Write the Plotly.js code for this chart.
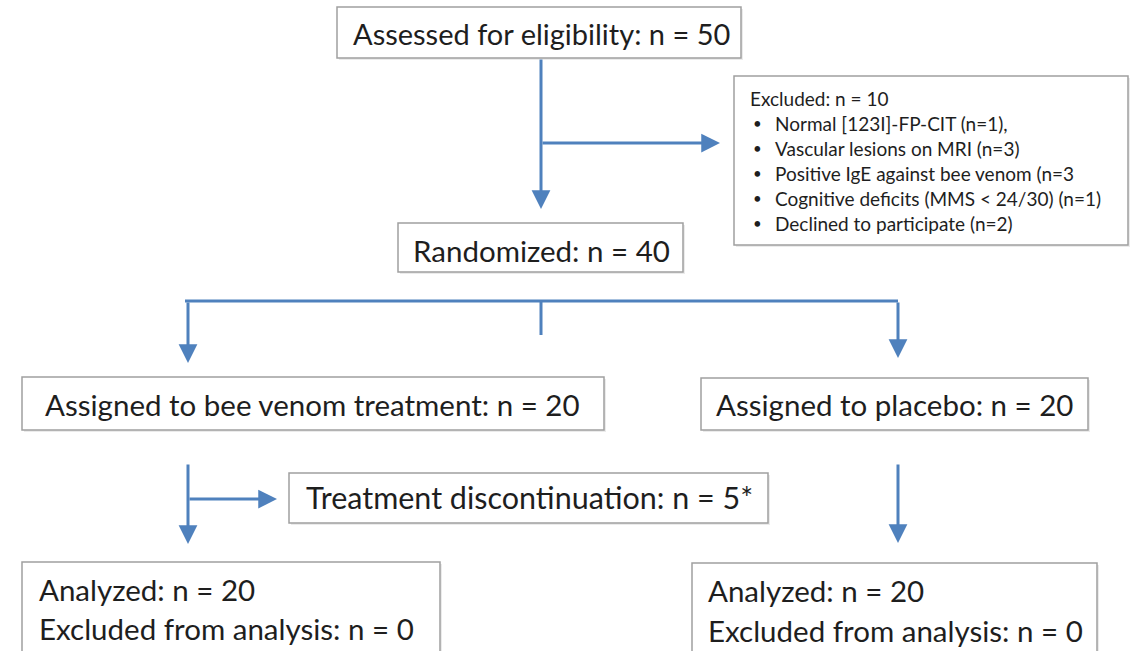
<!DOCTYPE html>
<html><head><meta charset="utf-8">
<script src="https://cdn.plot.ly/plotly-3.0.1.min.js"></script>
<style>html,body{margin:0;padding:0;background:#fff}</style>
</head><body><div id="chart" style="width:1130px;height:651px"></div>
<script>
// ---- data ----
const stageLabels = ["Assessed for eligibility", "Randomized", "Assigned to bee venom treatment", "Assigned to placebo", "Treatment discontinuation"];
const stageCounts = [50, 40, 20, 20, 5];
const stageSuffix = ["", "", "", "", "*"];
const excludedTitle = "Excluded";
const excludedTotal = 10;
const exclusionReasons = ["Normal [123I]-FP-CIT", "Vascular lesions on MRI", "Positive IgE against bee venom", "Cognitive deficits (MMS < 24/30)", "Declined to participate"];
const exclusionCounts = [1, 3, 3, 1, 2];
const exclusionClose = [")," , ")", "", ")", ")"];
const analyzedLabels = ["Analyzed", "Excluded from analysis"];
const analyzedBee = [20, 0];
const analyzedPlacebo = [20, 0];

// ---- layout geometry (pixels) ----
const FONT = "Lato, 'Open Sans', sans-serif";
const TXT = "#1e1e1e";
const BLUE = "#4f81bd";
const BORDER = "#a0a0a0";

const boxes = [
  {x0:337, x1:741, y0:7,   y1:58},   // assessed
  {x0:398, x1:683, y0:223, y1:272},  // randomized
  {x0:22,  x1:604, y0:377, y1:430},  // bee venom
  {x0:701, x1:1088,y0:378, y1:430},  // placebo
  {x0:289, x1:768, y0:473, y1:523},  // discontinuation
  {x0:734, x1:1128,y0:76,  y1:245},  // excluded
  {x0:22,  x1:440, y0:562, y1:670},  // analyzed bee
  {x0:692, x1:1097,y0:563, y1:670}   // analyzed placebo
];
const stageText = [
  {x:541, y:33,  size:29},
  {x:541, y:250, size:29.5},
  {x:312, y:404, size:29.5},
  {x:894, y:404, size:29.5},
  {x:529, y:497, size:30.5}
];
const lines = [
  [185, 301, 898, 301],
  [541, 301, 541, 335]
];
const arrows = [
  [541, 58, 541, 209],
  [541, 143, 720, 143],
  [188, 301, 188, 363],
  [898, 301, 898, 358],
  [188, 463, 188, 544],
  [188, 499, 277, 499],
  [898, 463, 898, 543]
];

const shapes = [];
boxes.forEach(b => {
  shapes.push({type:"rect", xref:"x", yref:"y", x0:b.x0+2, x1:b.x1+2, y0:b.y0+2, y1:b.y1+2,
    line:{width:0}, fillcolor:"rgba(0,0,0,0.08)", layer:"below"});
  shapes.push({type:"rect", xref:"x", yref:"y", x0:b.x0, x1:b.x1, y0:b.y0, y1:b.y1,
    line:{color:BORDER, width:1.5}, fillcolor:"#ffffff", layer:"below"});
});
lines.forEach(l => shapes.push({type:"line", xref:"x", yref:"y", x0:l[0], y0:l[1], x1:l[2], y1:l[3],
  line:{color:BLUE, width:3}}));

const ann = [];
stageLabels.forEach((lab, i) => {
  const p = stageText[i];
  ann.push({x:p.x, y:p.y, xref:"x", yref:"y", xanchor:"center", yanchor:"middle", showarrow:false,
    text: lab + ": n = " + stageCounts[i] + stageSuffix[i],
    font:{family:FONT, size:p.size, color:TXT}});
});
// excluded box
const SMALL = 19;
ann.push({x:748, y:98, xref:"x", yref:"y", xanchor:"left", yanchor:"middle", showarrow:false,
  text: excludedTitle + ": n = " + excludedTotal, font:{family:FONT, size:SMALL, color:TXT}});
exclusionReasons.forEach((r, i) => {
  const y = 123 + i * 25;
  ann.push({x:751, y:y, xref:"x", yref:"y", xanchor:"left", yanchor:"middle", showarrow:false,
    text:"•", font:{family:FONT, size:15, color:TXT}});
  ann.push({x:773, y:y, xref:"x", yref:"y", xanchor:"left", yanchor:"middle", showarrow:false,
    text: r + " (n=" + exclusionCounts[i] + exclusionClose[i], font:{family:FONT, size:SMALL, color:TXT}});
});
// analyzed boxes
[[37, analyzedBee, [589, 628]], [706, analyzedPlacebo, [590, 630]]].forEach(([x, vals, ys]) => {
  analyzedLabels.forEach((lab, i) => {
    ann.push({x:x, y:ys[i], xref:"x", yref:"y", xanchor:"left", yanchor:"middle", showarrow:false,
      text: lab + ": n = " + vals[i], font:{family:FONT, size:29.5, color:TXT}});
  });
});
arrows.forEach(a => ann.push({x:a[2], y:a[3], ax:a[0], ay:a[1], xref:"x", yref:"y", axref:"x", ayref:"y",
  text:"", showarrow:true, arrowhead:2, arrowsize:1.25, arrowwidth:3, arrowcolor:BLUE, standoff:0, startstandoff:0}));

const layout = {
  width:1130, height:651, margin:{l:0, r:0, t:0, b:0},
  paper_bgcolor:"#ffffff", plot_bgcolor:"#ffffff",
  xaxis:{range:[0,1130], visible:false, fixedrange:true},
  yaxis:{range:[651,0], visible:false, fixedrange:true},
  shapes:shapes, annotations:ann, showlegend:false
};
Plotly.newPlot("chart", [{x:[], y:[], type:"scatter", mode:"markers", hoverinfo:"skip"}], layout, {staticPlot:true, displayModeBar:false});
</script></body></html>
